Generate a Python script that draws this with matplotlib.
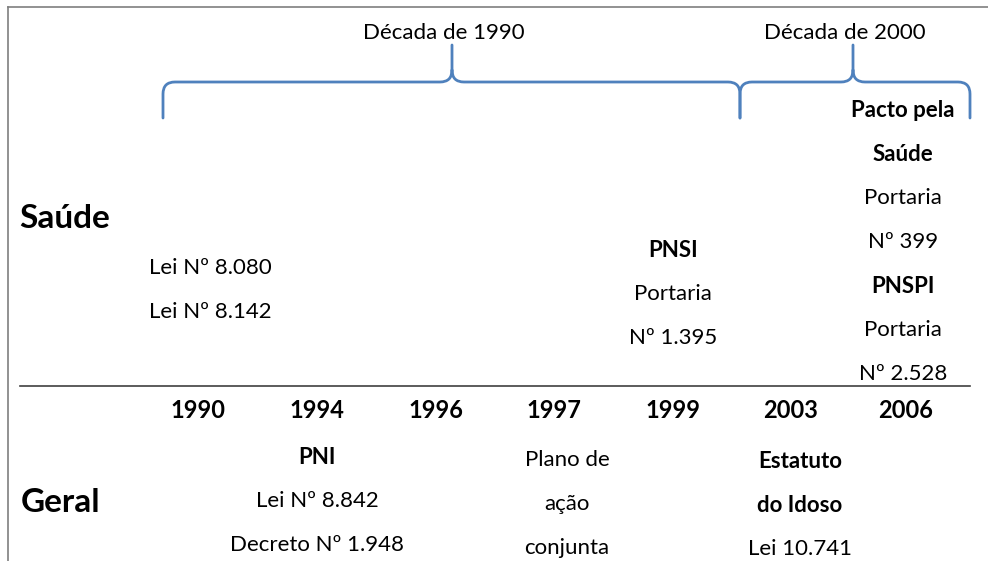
import matplotlib.pyplot as plt
from matplotlib.path import Path
from matplotlib.patches import PathPatch

plt.rcParams['font.family'] = ['Lato', 'DejaVu Sans']

# timeline columns
years = ['1990', '1994', '1996', '1997', '1999', '2003', '2006']
col_x = [198, 317, 436, 554, 673, 791, 906]

# entries: (column index, x offset, first line y, list of (text, bold))
saude_items = [
    (0, 12, 268, [('Lei Nº 8.080', False), ('Lei Nº 8.142', False)]),
    (4, 0, 250, [('PNSI', True), ('Portaria', False), ('Nº 1.395', False)]),
    (6, -3, 110, [('Pacto pela', True), ('Saúde', True), ('Portaria', False),
                  ('Nº 399', False), ('PNSPI', True), ('Portaria', False),
                  ('Nº 2.528', False)]),
]
geral_items = [
    (1, 0, 457, [('PNI', True), ('Lei Nº 8.842', False), ('Decreto Nº 1.948', False)]),
    (3, 13, 460, [('Plano de', False), ('ação', False), ('conjunta', False)]),
    (5, 9, 461, [('Estatuto', True), ('do Idoso', True), ('Lei 10.741', False)]),
]
line_gap = 44

decades = ['Década de 1990', 'Década de 2000']
# brace spans: (left x, tip x, right x)
braces = [(163, 452, 740), (740, 853, 970)]

fig = plt.figure(figsize=(9.88, 5.61), dpi=100)
ax = fig.add_axes([0, 0, 1, 1])
ax.set_xlim(0, 988)
ax.set_ylim(561, 0)
ax.axis('off')

# frame
ax.plot([8, 988], [7, 7], color='#7f7f7f', lw=1.2)
ax.plot([8, 8], [7, 561], color='#7f7f7f', lw=1.2)

# divider line
ax.plot([20, 970], [386, 386], color='#404040', lw=1.2)

fs = 16
for y, x in zip(years, col_x):
    ax.text(x, 410, y, ha='center', va='center', fontsize=17, fontweight='bold')

ax.text(19, 218, 'Saúde', ha='left', va='center', fontsize=24, fontweight='bold')
ax.text(21, 502, 'Geral', ha='left', va='center', fontsize=24, fontweight='bold')

for col, dx, y0, lines in saude_items + geral_items:
    for i, (t, b) in enumerate(lines):
        ax.text(col_x[col] + dx, y0 + i * line_gap, t, ha='center', va='center',
                fontsize=fs, fontweight='bold' if b else 'normal')


def brace(x0, xt, x1, y_top=45, y_mid=82, y_bot=118, r=12):
    verts = [
        (x0, y_bot), (x0, y_mid + r), (x0, y_mid), (x0 + r, y_mid),
        (xt - r, y_mid), (xt, y_mid), (xt, y_mid - r), (xt, y_top),
        (xt, y_mid - r), (xt, y_mid), (xt + r, y_mid),
        (x1 - r, y_mid), (x1, y_mid), (x1, y_mid + r), (x1, y_bot),
    ]
    codes = [Path.MOVETO, Path.LINETO, Path.CURVE3, Path.CURVE3,
             Path.LINETO, Path.CURVE3, Path.CURVE3, Path.LINETO,
             Path.MOVETO, Path.CURVE3, Path.CURVE3,
             Path.LINETO, Path.CURVE3, Path.CURVE3, Path.LINETO]
    ax.add_patch(PathPatch(Path(verts, codes), fill=False,
                           edgecolor='#4f81bd', lw=2, capstyle='round'))


for (x0, xt, x1), label in zip(braces, decades):
    brace(x0, xt, x1)
    ax.text(xt - 8, 33, label, ha='center', va='center', fontsize=16)

fig.savefig('out.png', dpi=100)
